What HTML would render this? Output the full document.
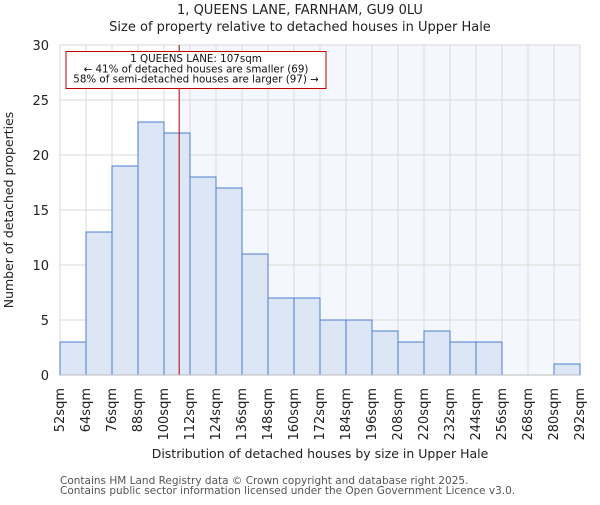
<!DOCTYPE html>
<html><head><meta charset="utf-8"><style>
body{margin:0;background:#fff;}
text{font-family:"DejaVu Sans","Liberation Sans",sans-serif;}
</style></head><body>
<svg id="chart" width="600" height="500" xmlns="http://www.w3.org/2000/svg">
<text x="300" y="14" text-anchor="middle" font-size="13" fill="#222">1, QUEENS LANE, FARNHAM, GU9 0LU</text>
<text x="300" y="31" text-anchor="middle" font-size="13" fill="#222">Size of property relative to detached houses in Upper Hale</text>
<g id="plot"></g>
<text transform="translate(13,210) rotate(-90)" text-anchor="middle" font-size="12.5" fill="#222">Number of detached properties</text>
<text x="320" y="458" text-anchor="middle" font-size="12.5" fill="#222">Distribution of detached houses by size in Upper Hale</text>
<text x="60" y="484" font-size="10.5" fill="#555">Contains HM Land Registry data © Crown copyright and database right 2025.</text>
<text x="60" y="494" font-size="10.5" fill="#555">Contains public sector information licensed under the Open Government Licence v3.0.</text>
</svg>
<script>
const binEdges=[52,64,76,88,100,112,124,136,148,160,172,184,196,208,220,232,244,256,268,280,292];
const counts=[3,13,19,23,22,18,17,11,7,7,5,5,4,3,4,3,3,0,0,1];
const yTicks=[0,5,10,15,20,25,30];
const propertySize=107;
const NS="http://www.w3.org/2000/svg";
const g=document.getElementById('plot');
const X0=60,X1=580,Y0=375,Y1=45;
const xs=v=>X0+(v-52)/(292-52)*(X1-X0);
const ys=v=>Y0-v/30*(Y0-Y1);
function mk(t,a){const e=document.createElementNS(NS,t);for(const k in a)e.setAttribute(k,a[k]);g.appendChild(e);return e;}
let e;
e=mk('rect',{x:xs(propertySize),y:Y1,width:X1-xs(propertySize),height:Y0-Y1,fill:'#f4f7fd'});


binEdges.forEach(v=>{e=mk('line',{x1:xs(v),x2:xs(v),y1:Y1,y2:Y0,stroke:'#d8d8d8','stroke-width':1});

});
yTicks.forEach(v=>{e=mk('line',{x1:X0,x2:X1,y1:ys(v),y2:ys(v),stroke:'#d8d8d8','stroke-width':1});


e=mk('text',{x:49,y:ys(v)+5,'text-anchor':'end','font-size':13,fill:'#222'});e.textContent=v;

});
counts.forEach((c,i)=>{if(c<=0)return;const x=xs(binEdges[i]),w=xs(binEdges[i+1])-x;
e=mk('rect',{x:x,y:ys(c),width:w,height:ys(0)-ys(c),fill:'#dce6f5',stroke:'#4a7fd0','stroke-width':1});

});
binEdges.forEach(v=>{const x=xs(v)+4;e=mk('text',{transform:`translate(${x},388) rotate(-90)`,'text-anchor':'end','font-size':13,fill:'#222'});e.textContent=v+'sqm';

});
e=mk('line',{x1:xs(propertySize),x2:xs(propertySize),y1:Y1,y2:Y0,stroke:'#b00000','stroke-width':1});


e=mk('rect',{x:66,y:51.5,width:260,height:37,fill:'#fff',stroke:'#c00000','stroke-width':1});


["1 QUEENS LANE: 107sqm","← 41% of detached houses are smaller (69)","58% of semi-detached houses are larger (97) →"].forEach((t,i)=>{
e=mk('text',{x:196,y:62+i*10.3,'text-anchor':'middle','font-size':10.3,fill:'#111'});e.textContent=t;

});
e=mk('line',{x1:X0,x2:X1,y1:Y0,y2:Y0,stroke:'#bbb'});


</script>
</body></html>
